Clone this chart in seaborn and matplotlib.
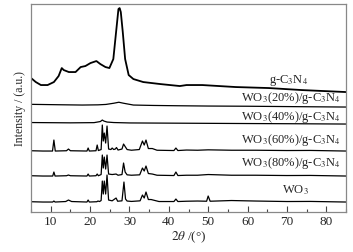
import numpy as np
import pandas as pd
import seaborn as sns
import matplotlib
matplotlib.use('Agg')
import matplotlib.pyplot as plt
from matplotlib.ticker import MultipleLocator

# XRD patterns: (2theta, relative intensity)
gcn = [(5, 14), (6.2, 10), (7.5, 7), (9.2, 7), (10.8, 10), (12.0, 16), (12.8, 24), (13.3, 22),
       (14.6, 20), (16.3, 20), (17.6, 25), (18.8, 26), (20.1, 29), (21.6, 31), (22.6, 28),
       (23.9, 25), (24.9, 24), (25.9, 33), (26.6, 60), (27.2, 83), (27.5, 84), (27.8, 80),
       (28.3, 60), (28.9, 33), (29.8, 17), (31.0, 13), (33.5, 10), (37.8, 8), (42.8, 6),
       (44.5, 7), (48.5, 7), (57, 5), (65.4, 4), (73.7, 2), (85, 0)]

wo3_20 = [(5, 2.7), (12, 2.3), (18, 2), (22, 2.2), (24, 2.6), (26, 3.8), (27.3, 4.8), (28.5, 3.8),
          (31, 2), (36, 1.6), (42, 1.3), (50, 1), (60, 0.8), (72, 0.4), (85, 0)]

wo3_40 = [(5, 1.5), (15, 1.2), (21, 1.4), (22.6, 2.5), (23.1, 4), (23.5, 3), (24.3, 2), (26, 1.5),
          (30, 1.1), (40, 0.9), (50, 0.7), (60, 0.5), (72, 0.3), (85, 0)]

wo3_60 = [(5, 0.3), (8, 0), (10.45, 0), (10.8, 11), (11.15, 0), (14.0, 0.3), (14.5, 2), (15.0, 0.3),
          (19.2, 0), (19.5, 3), (19.8, 0), (21.5, 0.3), (21.8, 6), (22.1, 0.5), (22.8, 1.5),
          (23.1, 26), (23.35, 10), (23.6, 18), (23.95, 8), (24.3, 25), (24.7, 2), (25.3, 1.5),
          (25.6, 3), (26.0, 1.5), (26.4, 2), (26.7, 3.5), (27.1, 1), (28.1, 2), (28.5, 7),
          (28.9, 4.5), (29.4, 1.5), (30.5, 0.8), (32.5, 1.5), (33.3, 10), (33.75, 6), (34.2, 11),
          (34.8, 2.5), (35.8, 2.5), (37.0, 0.8), (41.3, 0.5), (41.8, 3), (42.3, 0.5), (44.5, 1),
          (47.3, 0.8), (50.0, 1.2), (55.9, 0.8), (62, 0.8), (70, 0.5), (76, 0.6), (85, 0)]

wo3_80 = [(5, 0.3), (8, 0), (10.5, 0), (10.8, 4), (11.1, 0), (14.0, 0.3), (14.5, 1), (15.0, 0.3),
          (19.2, 0), (19.5, 2), (19.8, 0), (21.5, 0.3), (21.8, 2), (22.1, 0.3), (22.8, 1.5),
          (23.1, 21), (23.35, 8), (23.6, 19), (23.95, 7), (24.3, 21), (24.7, 2), (25.6, 1.5),
          (26.6, 2), (27.1, 0.8), (28.1, 1.5), (28.5, 13), (28.9, 4), (29.4, 1.2), (30.5, 0.8),
          (32.6, 1.2), (33.3, 8), (33.75, 5), (34.2, 10), (34.8, 2.5), (35.8, 2), (37.0, 0.8),
          (41.3, 0.5), (41.8, 4), (42.3, 0.5), (44.5, 0.8), (47.3, 0.8), (50.0, 1.5), (55.9, 0.8),
          (62, 0.8), (70, 0.5), (76, 0.6), (85, 0)]

wo3 = [(5, 0.3), (8, 0), (10.5, 0), (10.8, 1), (11.1, 0), (13.8, 0.5), (14.5, 2), (15.3, 0.5),
       (19.2, 0), (19.5, 2), (19.8, 0), (21.7, 0.3), (22.0, 1), (22.4, 0.5), (22.8, 1.5),
       (23.1, 21), (23.35, 8), (23.6, 21), (23.95, 8), (24.3, 27), (24.7, 2), (25.6, 1.2),
       (26.6, 4), (27.0, 0.8), (28.1, 1.2), (28.6, 20), (29.0, 3), (29.4, 1), (30.5, 0.6),
       (32.7, 1.2), (33.3, 7), (33.75, 4), (34.2, 10), (34.8, 2.5), (35.5, 2.5), (36.5, 1.5),
       (37.5, 0.5), (41.3, 0.5), (41.8, 3), (42.3, 0.5), (44.5, 0.8), (47.3, 1), (49.6, 0.8),
       (50.0, 6), (50.5, 0.8), (55.9, 1.5), (62, 1), (70, 0.5), (76, 0.6), (85, 0)]

samples = ['g-C3N4', 'WO3(20%)', 'WO3(40%)', 'WO3(60%)', 'WO3(80%)', 'WO3']
patterns = [gcn, wo3_20, wo3_40, wo3_60, wo3_80, wo3]
offsets = [120, 105, 88, 61, 36, 10]
labels = [r'g-C$_3$N$_4$', r'WO$_3$(20%)/g-C$_3$N$_4$', r'WO$_3$(40%)/g-C$_3$N$_4$',
          r'WO$_3$(60%)/g-C$_3$N$_4$', r'WO$_3$(80%)/g-C$_3$N$_4$', r'WO$_3$']

rows = []
for name, pat, off in zip(samples, patterns, offsets):
    for tt, inten in pat:
        rows.append({'2theta': tt, 'intensity': inten + off, 'sample': name})
df = pd.DataFrame(rows)

sns.set_style('ticks')
plt.rcParams['font.family'] = ['Liberation Serif', 'DejaVu Serif']
plt.rcParams['mathtext.fontset'] = 'stix'

fig = plt.figure(figsize=(3.53, 2.53), dpi=100)
ax = fig.add_axes([0.088, 0.158, 0.892, 0.822])

for name in samples:
    sub = df[df['sample'] == name]
    lw = 1.3 if name == 'g-C3N4' else 0.9
    sns.lineplot(data=sub, x='2theta', y='intensity', color='black', lw=lw,
                 sort=False, estimator=None, ax=ax)

# labels next to each pattern
fs = 9
ax.text(70.5, 133, labels[0], fontsize=fs, ha='center', va='center')
ax.text(83.8, 115, labels[1], fontsize=fs, ha='right', va='center')
ax.text(83.8, 96, labels[2], fontsize=fs, ha='right', va='center')
ax.text(83.8, 73, labels[3], fontsize=fs, ha='right', va='center')
ax.text(83.8, 50, labels[4], fontsize=fs, ha='right', va='center')
ax.text(72.2, 23, labels[5], fontsize=fs, ha='center', va='center')

ax.set_xlim(5, 85)
ax.set_ylim(0, 208)
ax.set_yticks([])
ax.xaxis.set_major_locator(MultipleLocator(10))
ax.xaxis.set_minor_locator(MultipleLocator(5))
ax.tick_params(axis='x', which='major', direction='in', length=4, width=0.8,
               color='#444444', labelsize=9.5, pad=2)
ax.tick_params(axis='x', which='minor', direction='in', length=2, width=0.8, color='#444444')
for sp in ax.spines.values():
    sp.set_color('#888888')
    sp.set_linewidth(0.9)

ax.set_xlabel(r'$\mathit{2\theta}$ /(°)', fontsize=9.5, labelpad=1)
ax.set_ylabel('Intensity / (a.u.)', fontsize=8.5, labelpad=4)

fig.savefig('out.png', dpi=100)
